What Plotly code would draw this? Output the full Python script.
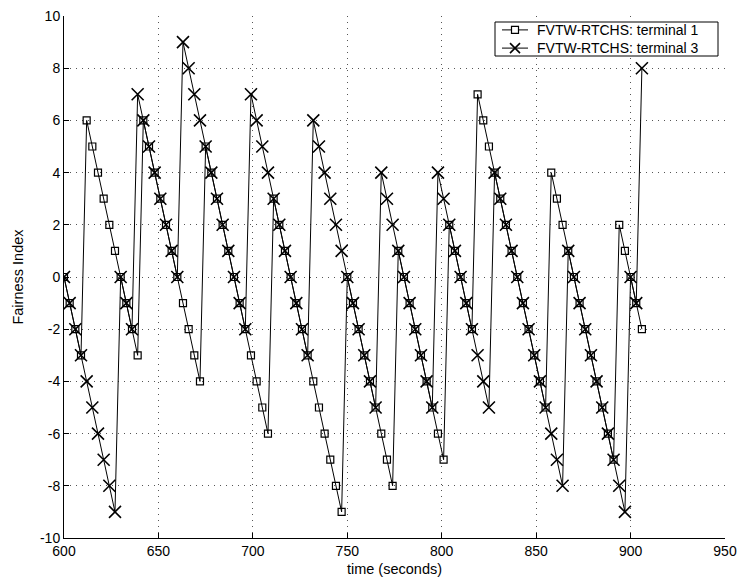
import plotly.graph_objects as go

time_s = [600, 603, 606, 609, 612, 615, 618, 621, 624, 627,
          630, 633, 636, 639, 642, 645, 648, 651, 654, 657,
          660, 663, 666, 669, 672, 675, 678, 681, 684, 687,
          690, 693, 696, 699, 702, 705, 708, 711, 714, 717,
          720, 723, 726, 729, 732, 735, 738, 741, 744, 747,
          750, 753, 756, 759, 762, 765, 768, 771, 774, 777,
          780, 783, 786, 789, 792, 795, 798, 801, 804, 807,
          810, 813, 816, 819, 822, 825, 828, 831, 834, 837,
          840, 843, 846, 849, 852, 855, 858, 861, 864, 867,
          870, 873, 876, 879, 882, 885, 888, 891, 894, 897,
          900, 903, 906]

terminal1 = [0, -1, -2, -3, 6, 5, 4, 3, 2, 1,
             0, -1, -2, -3, 6, 5, 4, 3, 2, 1,
             0, -1, -2, -3, -4, 5, 4, 3, 2, 1,
             0, -1, -2, -3, -4, -5, -6, 3, 2, 1,
             0, -1, -2, -3, -4, -5, -6, -7, -8, -9,
             0, -1, -2, -3, -4, -5, -6, -7, -8, 1,
             0, -1, -2, -3, -4, -5, -6, -7, 2, 1,
             0, -1, -2, 7, 6, 5, 4, 3, 2, 1,
             0, -1, -2, -3, -4, -5, 4, 3, 2, 1,
             0, -1, -2, -3, -4, -5, -6, -7, 2, 1,
             0, -1, -2]

terminal3 = [0, -1, -2, -3, -4, -5, -6, -7, -8, -9,
             0, -1, -2, 7, 6, 5, 4, 3, 2, 1,
             0, 9, 8, 7, 6, 5, 4, 3, 2, 1,
             0, -1, -2, 7, 6, 5, 4, 3, 2, 1,
             0, -1, -2, -3, 6, 5, 4, 3, 2, 1,
             0, -1, -2, -3, -4, -5, 4, 3, 2, 1,
             0, -1, -2, -3, -4, -5, 4, 3, 2, 1,
             0, -1, -2, -3, -4, -5, 4, 3, 2, 1,
             0, -1, -2, -3, -4, -5, -6, -7, -8, 1,
             0, -1, -2, -3, -4, -5, -6, -7, -8, -9,
             0, -1, 8]

series_names = ["FVTW-RTCHS: terminal 1", "FVTW-RTCHS: terminal 3"]
x_ticks = [600, 650, 700, 750, 800, 850, 900, 950]
y_ticks = [-10, -8, -6, -4, -2, 0, 2, 4, 6, 8, 10]

W, H = 737, 577
ML, MR, MT, MB = 64, 12, 16, 39
PW, PH = W - ML - MR, H - MT - MB


def px(xs):
    return (xs - ML) / PW


def py(ys):
    return 1 - (ys - MT) / PH


fig = go.Figure()
fig.add_trace(go.Scatter(
    x=time_s, y=terminal1, mode="lines+markers",
    name=series_names[0], showlegend=False,
    line=dict(color="black", width=1),
    marker=dict(symbol="square-open", size=7, color="black",
                line=dict(width=1.2, color="black")),
))
fig.add_trace(go.Scatter(
    x=time_s, y=terminal3, mode="lines+markers",
    name=series_names[1], showlegend=False,
    line=dict(color="black", width=1),
    marker=dict(symbol="x-thin-open", size=12, color="black",
                line=dict(width=1.6, color="black")),
))

# --- compact legend box ---
shapes = []
bx0, bx1, by0, by1 = 495, 718, 22, 56
shapes.append(dict(type="rect", xref="paper", yref="paper",
                   x0=px(bx0), x1=px(bx1), y0=py(by1), y1=py(by0),
                   line=dict(color="black", width=1), fillcolor="white",
                   layer="above"))
leg_size = 14
line_h = leg_size * 1.3
yc = (by0 + by1) / 2
rows = [yc - line_h / 2, yc + line_h / 2]
lx0, lx1, lxc = 502, 528, 515
for ry in rows:
    shapes.append(dict(type="line", xref="paper", yref="paper",
                       x0=px(lx0), x1=px(lx1), y0=py(ry), y1=py(ry),
                       line=dict(color="black", width=1), layer="above"))
s = 3.5
shapes.append(dict(type="rect", xref="paper", yref="paper",
                   x0=px(lxc - s), x1=px(lxc + s), y0=py(rows[0] + s), y1=py(rows[0] - s),
                   line=dict(color="black", width=1.2), fillcolor="white", layer="above"))
d = 5
for sgn in (1, -1):
    shapes.append(dict(type="line", xref="paper", yref="paper",
                       x0=px(lxc - d), x1=px(lxc + d),
                       y0=py(rows[1] - sgn * d), y1=py(rows[1] + sgn * d),
                       line=dict(color="black", width=1.6), layer="above"))

legend_font = dict(family="Liberation Sans, Arial, sans-serif", size=leg_size, color="black")
annotations = [dict(xref="paper", yref="paper", x=px(536), y=py(yc),
                    xanchor="left", yanchor="middle", align="left", showarrow=False,
                    borderpad=0, text="<br>".join(series_names), font=legend_font)]

font = dict(family="Liberation Sans, Arial, sans-serif", size=14, color="black")
title_font = dict(family="Liberation Sans, Arial, sans-serif", size=14.5, color="black")

fig.update_layout(
    width=W, height=H,
    margin=dict(l=ML, r=MR, t=MT, b=MB, autoexpand=False),
    paper_bgcolor="white", plot_bgcolor="white",
    font=font,
    showlegend=False,
    shapes=shapes,
    annotations=annotations,
    xaxis=dict(
        range=[600, 950], tickvals=x_ticks, ticktext=[str(v) for v in x_ticks],
        showline=True, linecolor="black", linewidth=1, mirror=False,
        ticks="inside", ticklen=5, tickcolor="black",
        showgrid=True, gridcolor="#555555", griddash="1px,5px", gridwidth=1,
        zeroline=False, automargin=False, ticklabeloverflow="allow",
        title=dict(text="time (seconds)", standoff=8, font=title_font),
        tickfont=font,
    ),
    yaxis=dict(
        range=[-10, 10], tickvals=y_ticks, ticktext=[str(v) for v in y_ticks],
        showline=True, linecolor="black", linewidth=1, mirror=False,
        ticks="inside", ticklen=5, tickcolor="black",
        showgrid=True, gridcolor="#555555", griddash="1px,5px", gridwidth=1,
        zeroline=False, automargin=False, ticklabeloverflow="allow",
        title=dict(text="Fairness Index", standoff=12, font=title_font),
        tickfont=font,
    ),
)

# remove the browser's default 8px body margin so the figure fills the window exactly
fig.write_html("out.html",
               config=dict(displayModeBar=False, staticPlot=True),
               post_script="document.body.style.margin='0';document.body.style.overflow='hidden';")
